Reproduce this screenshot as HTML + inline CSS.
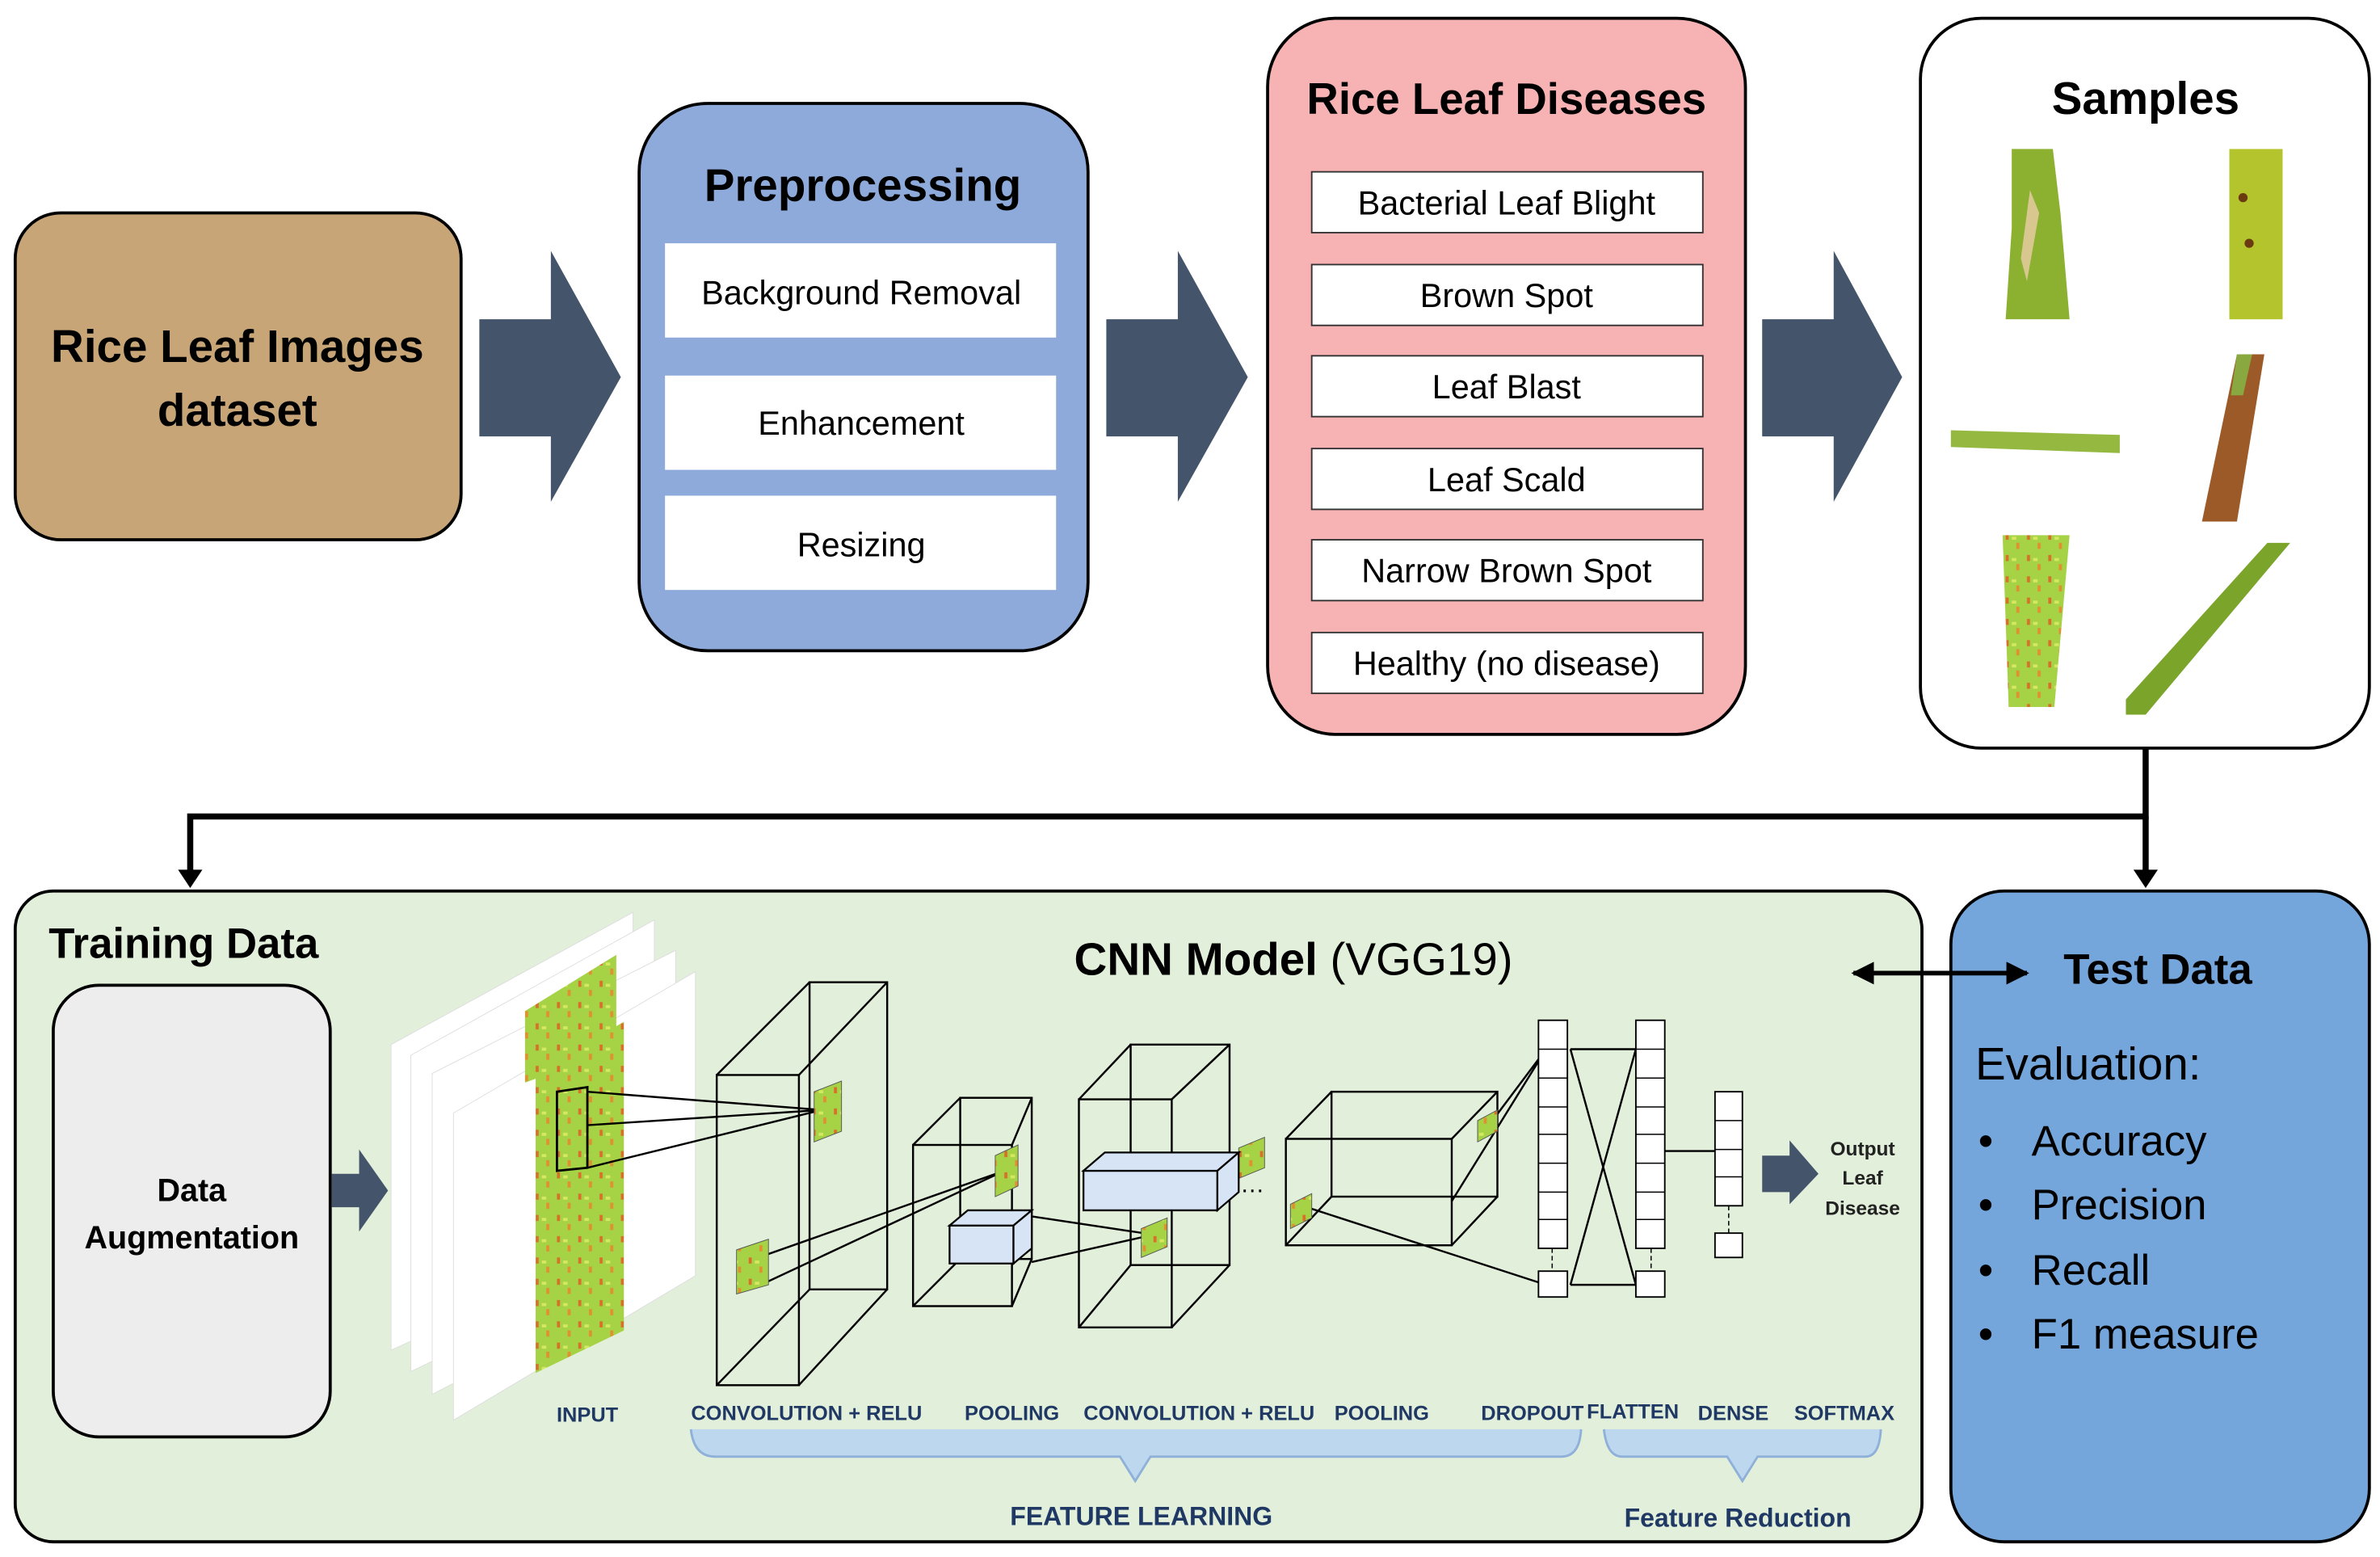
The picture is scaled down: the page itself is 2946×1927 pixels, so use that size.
<!DOCTYPE html>
<html><head><meta charset="utf-8"><style>
html,body{margin:0;padding:0;background:#fff}
svg{display:block}
text{font-family:"Liberation Sans",sans-serif}
</style></head><body>
<svg width="2946" height="1927" viewBox="0 0 1564 1024" preserveAspectRatio="none" xmlns="http://www.w3.org/2000/svg">
<defs>
<pattern id="leaf" width="14" height="14" patternUnits="userSpaceOnUse">
<rect width="14" height="14" fill="#a6d246"/>
<rect x="2" y="1" width="2" height="4" fill="#d8702a"/>
<rect x="9" y="7" width="2" height="4" fill="#e09030"/>
<rect x="6" y="3" width="3" height="2" fill="#d4e860"/>
</pattern>
<marker id="ah" viewBox="0 0 10 10" refX="9" refY="5" markerWidth="5" markerHeight="5" orient="auto-start-reverse"><path d="M0,0L10,5L0,10z" fill="#000"/></marker>
</defs>

<rect x="10" y="140" width="293" height="215" rx="30" fill="#c8a577" stroke="#000" stroke-width="2"/>
<text x="156" y="238" font-size="30" font-weight="bold" text-anchor="middle">Rice Leaf Images</text>
<text x="156" y="280" font-size="30" font-weight="bold" text-anchor="middle">dataset</text>

<g fill="#44546a">
<path d="M315,210H362V165L408,248L362,330V287H315z"/>
<path d="M727,210H774V165L820,248L774,330V287H727z"/>
<path d="M1158,210H1205V165L1250,248L1205,330V287H1158z"/>
</g>

<rect x="420" y="68" width="295" height="360" rx="45" fill="#8eaadb" stroke="#000" stroke-width="2"/>
<text x="567" y="132" font-size="30" font-weight="bold" text-anchor="middle">Preprocessing</text>
<g fill="#fff"><rect x="437" y="160" width="257" height="62"/><rect x="437" y="247" width="257" height="62"/><rect x="437" y="326" width="257" height="62"/></g>
<g font-size="22" text-anchor="middle"><text x="566" y="200">Background Removal</text><text x="566" y="286">Enhancement</text><text x="566" y="366">Resizing</text></g>

<rect x="833" y="12" width="314" height="471" rx="45" fill="#f7b2b4" stroke="#000" stroke-width="2"/>
<text x="990" y="75" font-size="29" font-weight="bold" text-anchor="middle">Rice Leaf Diseases</text>
<g fill="#fff" stroke="#333" stroke-width="1">
<rect x="862" y="113" width="257" height="40"/><rect x="862" y="174" width="257" height="40"/><rect x="862" y="234" width="257" height="40"/><rect x="862" y="295" width="257" height="40"/><rect x="862" y="355" width="257" height="40"/><rect x="862" y="416" width="257" height="40"/></g>
<g font-size="22" text-anchor="middle"><text x="990" y="141">Bacterial Leaf Blight</text><text x="990" y="202">Brown Spot</text><text x="990" y="262">Leaf Blast</text><text x="990" y="323">Leaf Scald</text><text x="990" y="383">Narrow Brown Spot</text><text x="990" y="444">Healthy (no disease)</text></g>

<rect x="1262" y="12" width="295" height="480" rx="40" fill="#fff" stroke="#000" stroke-width="2"/>
<text x="1410" y="75" font-size="30" font-weight="bold" text-anchor="middle">Samples</text>
<path d="M1322,98H1349L1354,140L1360,210H1318L1322,150z" fill="#8cb030"/>
<path d="M1328,170L1334,125L1340,140L1332,185z" fill="#d8c890"/>
<rect x="1465" y="98" width="35" height="112" fill="#b4c42c"/>
<circle cx="1474" cy="130" r="3" fill="#6a3a10"/><circle cx="1478" cy="160" r="3" fill="#6a3a10"/>
<path d="M1282,283L1393,286V298L1282,294z" fill="#94b840"/>
<path d="M1470,233H1488L1470,343H1447z" fill="#9c5a28"/>
<path d="M1470,233H1480L1474,260H1466z" fill="#8aa840"/>
<path d="M1316,352H1360L1350,465H1320z" fill="url(#leaf)"/>
<path d="M1490,357H1505L1410,470H1397V460z" fill="#7aa42a"/>

<g stroke="#000" stroke-width="4" fill="none">
<path d="M1410,492V537H125V574"/>
<path d="M1410,537V574"/>
</g>
<path d="M117,572L125,584L133,572z"/><path d="M1402,572L1410,584L1418,572z"/>

<rect x="10" y="586" width="1253" height="428" rx="25" fill="#e2efda" stroke="#000" stroke-width="2"/>
<text x="32" y="630" font-size="28" font-weight="bold">Training Data</text>
<text x="850" y="641" font-size="30" text-anchor="middle"><tspan font-weight="bold">CNN Model</tspan> (VGG19)</text>

<rect x="1282" y="586" width="275" height="428" rx="35" fill="#74a6dc" stroke="#000" stroke-width="2"/>
<text x="1418" y="647" font-size="28" font-weight="bold" text-anchor="middle">Test Data</text>
<text x="1298" y="710" font-size="30">Evaluation:</text>
<g font-size="28"><text x="1300" y="760">•</text><text x="1335" y="760">Accuracy</text>
<text x="1300" y="802">•</text><text x="1335" y="802">Precision</text>
<text x="1300" y="845">•</text><text x="1335" y="845">Recall</text>
<text x="1300" y="887">•</text><text x="1335" y="887">F1 measure</text></g>

<line x1="1218" y1="640" x2="1332" y2="640" stroke="#000" stroke-width="3" marker-start="url(#ah)" marker-end="url(#ah)"/>

<rect x="35" y="648" width="182" height="297" rx="30" fill="#ededed" stroke="#000" stroke-width="2"/>
<text x="126" y="790" font-size="21" font-weight="bold" text-anchor="middle">Data</text>
<text x="126" y="821" font-size="21" font-weight="bold" text-anchor="middle">Augmentation</text>
<path d="M218,772H236V756L255,783L236,810V794H218z" fill="#44546a"/>

<g fill="#fff" stroke="#ddd" stroke-width="0.5">
<path d="M257,687L416,600V815L257,888z"/>
<path d="M270,694L430,605V825L270,902z"/>
<path d="M284,706L444,625V834L284,917z"/>
<path d="M298,732L457,639V839L298,934z"/>
</g>
<path d="M345,665L405,628V690L345,712z" fill="url(#leaf)"/>
<path d="M352,705L410,672V875L352,903z" fill="url(#leaf)"/>
<path d="M366,718L386,715V768L366,770z" fill="none" stroke="#000" stroke-width="1.5"/>

<g fill="none" stroke="#000" stroke-width="1.3">
<rect x="471" y="707" width="54" height="204"/><rect x="532" y="646" width="51" height="202"/>
<path d="M471,707L532,646M525,707L583,646M471,911L532,848M525,911L583,848"/>
<rect x="600" y="753" width="65" height="106"/><rect x="631" y="722" width="47" height="106"/>
<path d="M600,753L631,722M665,753L678,722M600,859L631,828M665,859L678,828"/>
<rect x="709" y="723" width="61" height="150"/><rect x="743" y="687" width="65" height="145"/>
<path d="M709,723L743,687M770,723L808,687M709,873L743,832M770,873L808,832"/>
<rect x="845" y="749" width="109" height="70"/><rect x="875" y="718" width="109" height="69"/>
<path d="M845,749L875,718M954,749L984,718M845,819L875,787M954,819L984,787"/>
<path d="M386,718L540,730M386,740L540,730M386,768L540,730M490,830L660,770M500,845L660,770M678,800L758,812M678,830L758,812M862,795L1016,845M954,790L1016,690M980,738L1016,690"/>
<path d="M1032,690L1075,690M1032,845L1075,845M1032,690L1075,845M1032,845L1075,690M1094,757L1127,757"/>
</g>
<g fill="url(#leaf)" stroke="#555" stroke-width="0.5">
<path d="M535,718L553,711V744L535,751z"/><path d="M484,822L505,815V845L484,851z"/>
<path d="M654,760L669,753V780L654,787z"/><path d="M814,755L831,748V768L814,775z"/><path d="M750,808L767,801V820L750,827z"/>
<path d="M971,737L984,730V744L971,751z"/><path d="M848,792L862,785V801L848,808z"/>
</g>
<g fill="#d6e4f5" stroke="#000" stroke-width="1.2">
<path d="M624,806H666V831H624z"/><path d="M624,806L636,796H678L666,806z"/><path d="M666,806L678,796V821L666,831z"/>
<path d="M712,770H800V796H712z"/><path d="M712,770L726,758H814L800,770z"/><path d="M800,770L814,758V784L800,796z"/>
</g>
<text x="815" y="784" font-size="16">…</text>
<g fill="#fff" stroke="#000" stroke-width="1">
<rect x="1011" y="671" width="19" height="150"/><rect x="1011" y="836" width="19" height="17"/>
<rect x="1075" y="671" width="19" height="150"/><rect x="1075" y="836" width="19" height="17"/>
<rect x="1127" y="718" width="18" height="75"/><rect x="1127" y="811" width="18" height="16"/>
</g>
<g stroke="#000" stroke-width="0.8">
<path d="M1011,690H1030M1011,709H1030M1011,728H1030M1011,746H1030M1011,765H1030M1011,784H1030M1011,802H1030"/>
<path d="M1075,690H1094M1075,709H1094M1075,728H1094M1075,746H1094M1075,765H1094M1075,784H1094M1075,802H1094"/>
<path d="M1127,737H1145M1127,756H1145M1127,774H1145"/>
<path d="M1020,821V836M1085,821V836M1136,793V811" stroke-dasharray="3,2"/>
</g>
<path d="M1158,760H1176V750L1195,772L1176,792V784H1158z" fill="#44546a"/>
<g font-size="13" font-weight="bold" fill="#222" text-anchor="middle"><text x="1224" y="760">Output</text><text x="1224" y="779">Leaf</text><text x="1224" y="799">Disease</text></g>

<g font-size="13.5" font-weight="bold" fill="#1f3864" text-anchor="middle">
<text x="386" y="935">INPUT</text><text x="530" y="934">CONVOLUTION + RELU</text><text x="665" y="934">POOLING</text><text x="788" y="934">CONVOLUTION + RELU</text><text x="908" y="934">POOLING</text><text x="1007" y="934">DROPOUT</text><text x="1073" y="933">FLATTEN</text><text x="1139" y="934">DENSE</text><text x="1212" y="934">SOFTMAX</text>
</g>
<path d="M454,940Q456,958 470,958H736L746,974L756,958H1026Q1038,958 1039,940" fill="#bdd7ee" stroke="#8fb0d8" stroke-width="1.5"/>
<path d="M1054,940Q1056,958 1066,958H1135L1145,974L1155,958H1226Q1235,958 1236,940" fill="#bdd7ee" stroke="#8fb0d8" stroke-width="1.5"/>
<text x="750" y="1003" font-size="17" font-weight="bold" fill="#1f3864" text-anchor="middle">FEATURE LEARNING</text>
<text x="1142" y="1004" font-size="17" font-weight="bold" fill="#1f3864" text-anchor="middle">Feature Reduction</text>
</svg>
</body></html>
